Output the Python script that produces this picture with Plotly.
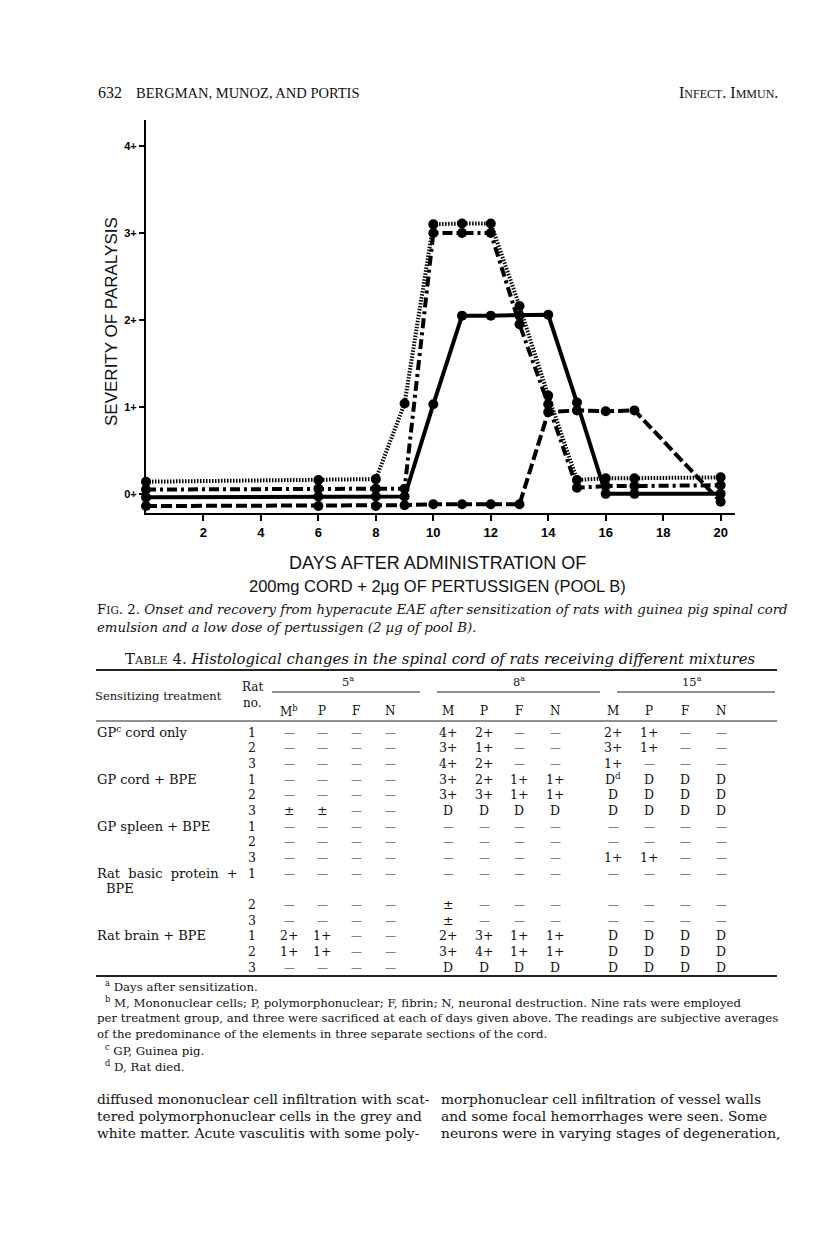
import plotly.graph_objects as go

# ---------------- chart data ----------------
days = [0, 6, 8, 9, 10, 11, 12, 13, 14, 15, 16, 17, 20]
sev_hatched = [0.14, 0.16, 0.17, 1.04, 3.10, 3.11, 3.11, 2.16, 1.13, 0.16, 0.18, 0.18, 0.19]
sev_dashdot = [0.05, 0.06, 0.06, 0.06, 3.00, 3.00, 3.00, 1.95, 1.03, 0.07, 0.09, 0.09, 0.10]
sev_solid = [-0.04, -0.03, -0.03, -0.03, 1.03, 2.05, 2.05, 2.05, 2.06, 1.05, 0.00, 0.00, 0.00]
sev_dashed = [-0.14, -0.14, -0.14, -0.13, -0.12, -0.12, -0.12, -0.12, 0.94, 0.96, 0.95, 0.96, -0.09]

x_tick_vals = [2, 4, 6, 8, 10, 12, 14, 16, 18, 20]
y_tick_vals = [0, 1, 2, 3, 4]
y_tick_text = ["0+", "1+", "2+", "3+", "4+"]

# ---------------- table data ----------------
table_groups = ["5<sup>a</sup>", "8<sup>a</sup>", "15<sup>a</sup>"]
table_cols = ["M<sup>b</sup>", "P", "F", "N", "M", "P", "F", "N", "M", "P", "F", "N"]
table_treat = ["GP<sup>c</sup> cord only", "", "", "GP cord + BPE", "", "", "GP spleen + BPE", "", "",
               "Rat  basic  protein  +", "BPE", "", "", "Rat brain + BPE", "", ""]
table_ratno = ["1", "2", "3", "1", "2", "3", "1", "2", "3", "1", "", "2", "3", "1", "2", "3"]
D_ = "—"
table_vals = [
    [D_, D_, D_, D_, "4+", "2+", D_, D_, "2+", "1+", D_, D_],
    [D_, D_, D_, D_, "3+", "1+", D_, D_, "3+", "1+", D_, D_],
    [D_, D_, D_, D_, "4+", "2+", D_, D_, "1+", D_, D_, D_],
    [D_, D_, D_, D_, "3+", "2+", "1+", "1+", "D<sup>d</sup>", "D", "D", "D"],
    [D_, D_, D_, D_, "3+", "3+", "1+", "1+", "D", "D", "D", "D"],
    ["±", "±", D_, D_, "D", "D", "D", "D", "D", "D", "D", "D"],
    [D_, D_, D_, D_, D_, D_, D_, D_, D_, D_, D_, D_],
    [D_, D_, D_, D_, D_, D_, D_, D_, D_, D_, D_, D_],
    [D_, D_, D_, D_, D_, D_, D_, D_, "1+", "1+", D_, D_],
    [D_, D_, D_, D_, D_, D_, D_, D_, D_, D_, D_, D_],
    ["", "", "", "", "", "", "", "", "", "", "", ""],
    [D_, D_, D_, D_, "±", D_, D_, D_, D_, D_, D_, D_],
    [D_, D_, D_, D_, "±", D_, D_, D_, D_, D_, D_, D_],
    ["2+", "1+", D_, D_, "2+", "3+", "1+", "1+", "D", "D", "D", "D"],
    ["1+", "1+", D_, D_, "3+", "4+", "1+", "1+", "D", "D", "D", "D"],
    [D_, D_, D_, D_, "D", "D", "D", "D", "D", "D", "D", "D"],
]

footnotes = [
    "<sup>a</sup> Days after sensitization.",
    "<sup>b</sup> M, Mononuclear cells; P, polymorphonuclear; F, fibrin; N, neuronal destruction. Nine rats were employed",
    "per treatment group, and three were sacrificed at each of days given above. The readings are subjective averages",
    "of the predominance of the elements in three separate sections of the cord.",
    "<sup>c</sup> GP, Guinea pig.",
    "<sup>d</sup> D, Rat died.",
]
body_left = ["diffused mononuclear cell infiltration with scat-",
             "tered polymorphonuclear cells in the grey and",
             "white matter. Acute vasculitis with some poly-"]
body_right = ["morphonuclear cell infiltration of vessel walls",
              "and some focal hemorrhages were seen. Some",
              "neurons were in varying stages of degeneration,"]

OFF = 8  # default page margin of the browser
W, H = 816 - OFF, 1238 - OFF
SERIF = "DejaVu Serif, serif"
TIMES = "Liberation Serif, Times New Roman, serif"
SANS = "Liberation Sans, Arial, sans-serif"


def px(x):
    return (x - OFF) / W


def py(y):
    return 1 - (y - OFF) / H


fig = go.Figure()

common = dict(mode="lines+markers", marker=dict(size=10, color="black"), cliponaxis=False,
              showlegend=False, hoverinfo="skip")
fig.add_trace(go.Scatter(x=days, y=sev_dashed, line=dict(color="black", width=4, dash="11px,4px"), **common))
fig.add_trace(go.Scatter(x=days, y=sev_solid, line=dict(color="black", width=4), **common))
fig.add_trace(go.Scatter(x=days, y=sev_dashdot, line=dict(color="black", width=4, dash="10px,4px,3px,4px"), **common))
fig.add_trace(go.Scatter(x=days, y=sev_hatched, line=dict(color="black", width=4, dash="1.5px,1.5px"), **common))

fig.update_layout(
    width=W, height=H, margin=dict(l=0, r=0, t=0, b=0),
    paper_bgcolor="white", plot_bgcolor="white",
    xaxis=dict(domain=[px(146), px(735)], range=[0, 20.5], showgrid=False, zeroline=False,
               showline=True, linecolor="black", linewidth=2, ticks="outside", ticklen=6,
               tickwidth=2, tickcolor="black", tickvals=x_tick_vals,
               tickfont=dict(family=SANS, size=13, color="black", weight="bold"), anchor="y"),
    yaxis=dict(domain=[py(513), py(120)], range=[-0.22, 4.3], showgrid=False, zeroline=False,
               showline=True, linecolor="black", linewidth=2, ticks="outside", ticklen=5,
               tickwidth=1.5, tickcolor="black", tickvals=y_tick_vals, ticktext=y_tick_text,
               tickfont=dict(family=SANS, size=11, color="black", weight="bold"), anchor="x"),
)

ann = []


def text(x, y, s, size=13, family=SERIF, xanchor="left", yanchor="middle", textangle=0, color="#111"):
    ann.append(dict(x=px(x), y=py(y), xref="paper", yref="paper", text=s, showarrow=False,
                    xanchor=xanchor, yanchor=yanchor, textangle=textangle,
                    font=dict(family=family, size=size, color=color)))


# header
text(96, 93, "632", size=16, family=TIMES)
text(134, 93, "BERGMAN, MUNOZ, AND PORTIS", size=14.5, family=TIMES)
text(780, 93, "I<span style='font-size:12px'>NFECT</span>. I<span style='font-size:12px'>MMUN</span>.",
     size=16, family=TIMES, xanchor="right")

# axis titles
text(111, 322, "SEVERITY OF PARALYSIS", size=17, family=SANS, xanchor="center", textangle=-90)
text(437, 563, "DAYS AFTER ADMINISTRATION OF", size=18, family=SANS, xanchor="center")
text(437, 586, "200mg CORD + 2µg OF PERTUSSIGEN (POOL B)", size=16.5, family=SANS, xanchor="center")

# caption
text(95, 609, "F<span style='font-size:10.5px'>IG</span>. 2. <i>Onset and recovery from hyperacute EAE after "
     "sensitization of rats with guinea pig spinal cord</i>", size=13.3)
text(95, 627, "<i>emulsion and a low dose of pertussigen (2 µg of pool B).</i>", size=13.3)

# table title
text(440, 659, "T<span style='font-size:11.5px'>ABLE</span> 4. <i>Histological changes in the spinal cord of "
     "rats receiving different mixtures</i>", size=14.9, xanchor="center")

shapes = []


def hline(x0, x1, y, w=1.0):
    shapes.append(dict(type="line", xref="paper", yref="paper", x0=px(x0), x1=px(x1), y0=py(y), y1=py(y),
                       line=dict(color="#222", width=w)))


hline(96, 777, 670, 2)
hline(96, 777, 721, 1)
hline(96, 777, 976, 2)

group_x = [348, 519, 692]
group_line = [(272, 420), (437, 600), (617, 775)]
for g, gx, (a, b) in zip(table_groups, group_x, group_line):
    text(gx, 681, g, size=11.5, xanchor="center")
    hline(a, b, 692, 1)

col_x = [289, 322, 356, 390, 448, 484, 519, 555, 613, 649, 685, 721]
text(158, 696, "Sensitizing treatment", size=11.5, xanchor="center")
text(252, 687, "Rat", size=12, xanchor="center")
text(252, 703, "no.", size=12, xanchor="center")
for c, cx in zip(table_cols, col_x):
    text(cx, 711, c, size=12, xanchor="center")

row_y0, row_dy = 732, 15.67
for i, (tr, rn, vals) in enumerate(zip(table_treat, table_ratno, table_vals)):
    y = row_y0 + i * row_dy
    if tr:
        text(95 if tr != "BPE" else 104, y, tr, size=13)
    if rn:
        text(252, y, rn, size=12.5, xanchor="center")
    for v, cx in zip(vals, col_x):
        if v:
            text(cx, y, v, size=11 if v == D_ else 12.5, xanchor="center")

# footnotes
foot_y = [986, 1002, 1018, 1034, 1050, 1066]
foot_x = [103, 103, 95, 95, 103, 103]
for s, fx, fy in zip(footnotes, foot_x, foot_y):
    text(fx, fy, s, size=11.75)

# body text
for i, (l, r) in enumerate(zip(body_left, body_right)):
    y = 1099 + i * 17
    text(95, y, l, size=13.8)
    text(439, y, r, size=13.8)

fig.update_layout(annotations=ann, shapes=shapes)
fig.write_html("out.html")
